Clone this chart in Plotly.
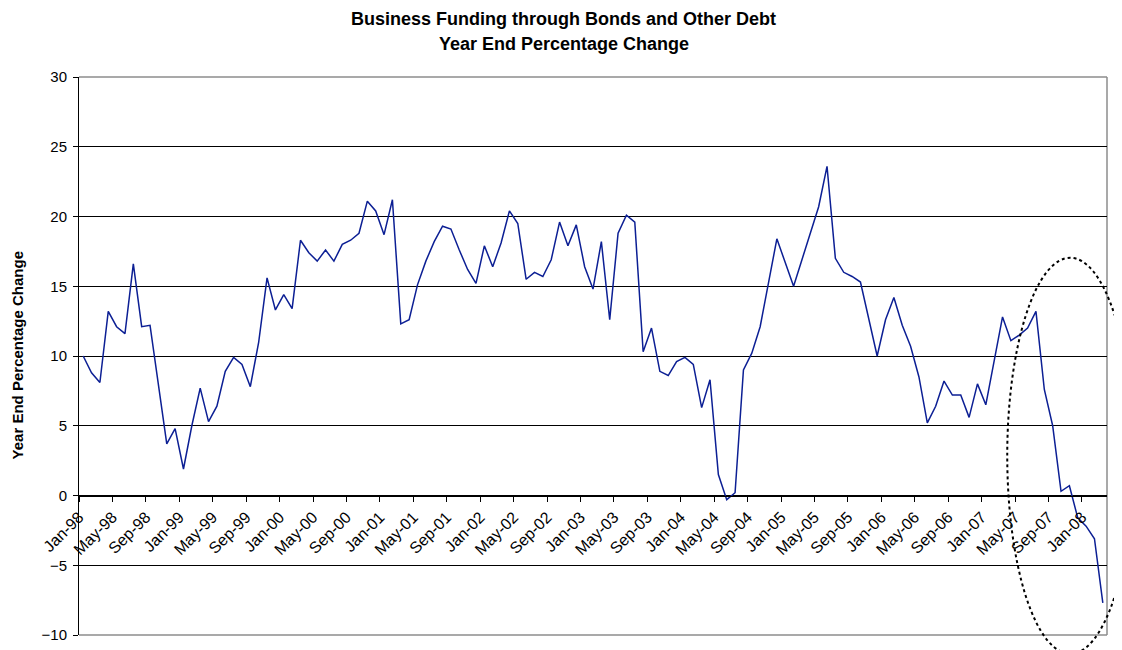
import plotly.graph_objects as go

# ---- data -------------------------------------------------------------
month_names = ["Jan", "Feb", "Mar", "Apr", "May", "Jun",
               "Jul", "Aug", "Sep", "Oct", "Nov", "Dec"]
years = ["98", "99", "00", "01", "02", "03", "04", "05", "06", "07", "08"]
categories = [f"{m}-{y}" for y in years for m in month_names][:123]  # Jan-98 .. Mar-08

values = [
    10.0, 8.8, 8.1, 13.2, 12.1, 11.6, 16.6, 12.1, 12.2, 7.8, 3.7, 4.8,      # 1998
    1.9, 5.0, 7.7, 5.3, 6.4, 8.9, 9.9, 9.4, 7.8, 11.0, 15.6, 13.3,          # 1999
    14.4, 13.4, 18.3, 17.4, 16.8, 17.6, 16.8, 18.0, 18.3, 18.8, 21.1, 20.4, # 2000
    18.7, 21.2, 12.3, 12.6, 15.1, 16.8, 18.2, 19.3, 19.1, 17.6, 16.2, 15.2, # 2001
    17.9, 16.4, 18.1, 20.4, 19.5, 15.5, 16.0, 15.7, 16.9, 19.6, 17.9, 19.4, # 2002
    16.4, 14.8, 18.2, 12.6, 18.8, 20.1, 19.6, 10.3, 12.0, 8.9, 8.6, 9.6,    # 2003
    9.9, 9.4, 6.3, 8.3, 1.5, -0.3, 0.2, 9.0, 10.2, 12.1, 15.2, 18.4,        # 2004
    16.7, 15.0, 16.9, 18.8, 20.7, 23.6, 17.0, 16.0, 15.7, 15.3, 12.6, 10.0, # 2005
    12.6, 14.2, 12.2, 10.7, 8.5, 5.2, 6.4, 8.2, 7.2, 7.2, 5.6, 8.0,         # 2006
    6.5, 9.6, 12.8, 11.1, 11.5, 12.0, 13.2, 7.6, 5.0, 0.3, 0.7, -1.6,       # 2007
    -2.2, -3.1, -7.7,                                                       # 2008
]

tick_step = 4
tick_labels = categories[::tick_step]
y_ticks = [-10, -5, 0, 5, 10, 15, 20, 25, 30]

title_line1 = "Business Funding through Bonds and Other Debt"
title_line2 = "Year End Percentage Change"
y_title = "Year End Percentage Change"

# ---- figure -----------------------------------------------------------
x_idx = list(range(len(values)))
boundary_pos = [i - 0.5 for i in range(0, len(values), tick_step)]

FONT = "Liberation Sans, Arial, sans-serif"
PAGE_OFF = 8                      # default body margin of the html page
W, H = 1122 - PAGE_OFF, 650 - PAGE_OFF
# target plot area in screen pixels
SCR_L, SCR_R, SCR_T, SCR_B = 79.3, 1106.7, 77.3, 635.2
ML = SCR_L - PAGE_OFF
MT = SCR_T - PAGE_OFF
MR = W - (SCR_R - PAGE_OFF)
MB = H - (SCR_B - PAGE_OFF)
plot_w = W - ML - MR
plot_h = H - MT - MB


def px_to_paper_x(px):
    return (px - SCR_L) / plot_w


def px_to_paper_y(py):
    return (SCR_B - py) / plot_h


y_min, y_max = y_ticks[0], y_ticks[-1]

fig = go.Figure()
fig.add_trace(go.Scatter(
    x=x_idx, y=values, mode="lines",
    line=dict(color="#0c1f94", width=1.5),
    text=categories, hovertemplate="%{text}: %{y}<extra></extra>",
    showlegend=False,
))

fig.update_layout(
    width=W, height=H, autosize=False,
    margin=dict(l=ML, r=MR, t=MT, b=MB, pad=0, autoexpand=False),
    paper_bgcolor="white", plot_bgcolor="white",
    font=dict(family=FONT, color="black", size=14),
    showlegend=False,
    xaxis=dict(
        range=[-0.5, len(values) - 0.5],
        tickmode="array", tickvals=boundary_pos, ticktext=tick_labels,
        tickangle=-45, ticks="outside", ticklen=5, tickcolor="black",
        showline=True, linecolor="black", linewidth=1,
        showgrid=False, zeroline=False, automargin=False,
        anchor="free", position=(0 - y_min) / (y_max - y_min),
        tickfont=dict(family=FONT, size=16, color="black"),
    ),
    yaxis=dict(
        range=[y_min, y_max],
        tickmode="array", tickvals=y_ticks,
        ticks="outside", ticklen=5, tickcolor="black",
        showline=True, linecolor="black", linewidth=1,
        showgrid=True, gridcolor="black", gridwidth=1,
        zeroline=False, automargin=False,
        tickfont=dict(family=FONT, size=15, color="black"),
        ticklabelstandoff=3,
    ),
)

# plot-area border (top, right, bottom) in gray
for x0, y0, x1, y1 in [(0, 1, 1, 1), (1, 0, 1, 1), (0, 0, 1, 0)]:
    fig.add_shape(type="line", xref="paper", yref="paper",
                  x0=x0, y0=y0, x1=x1, y1=y1,
                  line=dict(color="#8c8c8c", width=1.5), layer="below")

# dotted ellipse highlighting the recent decline
fig.add_shape(type="circle", xref="paper", yref="paper",
              x0=px_to_paper_x(1007), x1=px_to_paper_x(1133),
              y0=px_to_paper_y(654), y1=px_to_paper_y(258),
              line=dict(color="black", width=2, dash="dot"))

# titles
fig.add_annotation(text=f"<b>{title_line1}</b>", xref="paper", yref="paper",
                   x=px_to_paper_x(564), y=px_to_paper_y(19),
                   xanchor="center", yanchor="middle", showarrow=False,
                   font=dict(family=FONT, size=18, color="black"))
fig.add_annotation(text=f"<b>{title_line2}</b>", xref="paper", yref="paper",
                   x=px_to_paper_x(564), y=px_to_paper_y(44),
                   xanchor="center", yanchor="middle",
                   showarrow=False,
                   font=dict(family=FONT, size=18, color="black"))
fig.add_annotation(text=f"<b>{y_title}</b>", xref="paper", yref="paper",
                   x=px_to_paper_x(18), y=px_to_paper_y(356),
                   xanchor="center", yanchor="middle", textangle=-90,
                   showarrow=False,
                   font=dict(family=FONT, size=15, color="black"))

fig.write_html("out.html")
